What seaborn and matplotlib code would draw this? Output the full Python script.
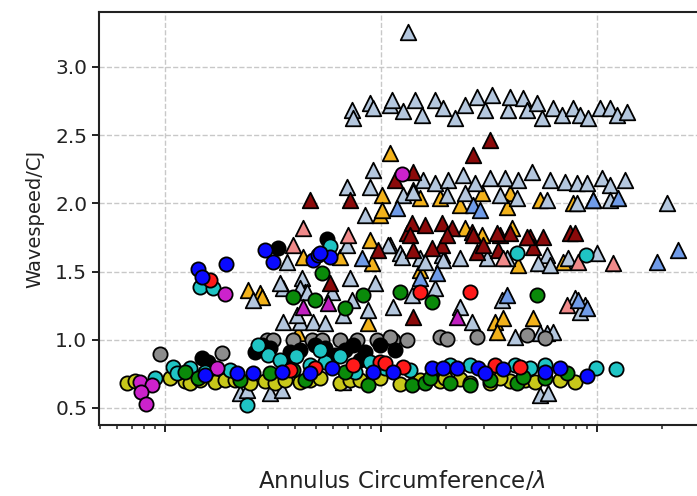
import matplotlib
matplotlib.use("Agg")
import matplotlib.pyplot as plt
import seaborn as sns

# ---- circles ----
yellow_x = [0.667, 0.726, 1.055, 1.238, 1.305, 1.452, 1.704, 1.896, 2.109, 2.475, 2.904, 3.231, 3.594,
            4.217, 4.692, 5.22, 6.46, 7.19, 8.0, 9.89, 12.24, 14.37, 15.16, 18.76, 23.22, 25.83, 31.97,
            39.56, 46.42, 51.64, 67.41, 19.79, 35.56, 79.09]
yellow_y = [0.683, 0.698, 0.72, 0.698, 0.683, 0.705, 0.691, 0.705, 0.705, 0.683, 0.698, 0.683, 0.705,
            0.691, 0.705, 0.72, 0.683, 0.705, 0.705, 0.72, 0.676, 0.691, 0.705, 0.698, 0.713, 0.683, 0.683,
            0.698, 0.705, 0.691, 0.705, 0.72, 0.72, 0.691]

magenta_x = [0.766, 0.871, 0.774, 0.817, 1.896, 1.741, 12.51]
magenta_y = [0.691, 0.669, 0.617, 0.529, 1.336, 0.793, 2.216]

cyan_x = [0.899, 1.089, 1.137, 1.305, 1.532, 2.0, 1.452, 1.668, 2.397, 2.999, 3.408, 4.04, 4.692, 5.506,
          6.46, 7.58, 8.896, 10.43, 20.87, 41.73, 57.45, 5.807, 42.6, 88.9, 98.9, 122.4,
          2.696, 5.22, 13.62, 25.83, 48.96]
cyan_y = [0.72, 0.80, 0.757, 0.793, 0.764, 0.779, 1.387, 1.38, 0.522, 0.889, 0.852, 0.881, 0.815, 0.837,
          0.881, 0.764, 0.837, 0.793, 0.815, 0.815, 0.815, 1.688, 1.636, 1.622, 0.793, 0.786,
          0.962, 0.925, 0.779, 0.815, 0.793]

green_x = [1.422, 1.238, 2.225, 3.063, 3.914, 4.448, 6.814, 8.71, 13.92, 15.99, 20.87, 25.83, 42.6, 45.4,
           72.6, 12.24, 17.2, 52.7, 3.914, 8.26, 5.33, 4.949, 6.814, 16.86, 31.97, 57.45]
green_y = [0.72, 0.764, 0.705, 0.757, 0.779, 0.705, 0.764, 0.669, 0.669, 0.683, 0.683, 0.669, 0.683, 0.727,
           0.757, 1.35, 1.277, 1.328, 1.314, 1.328, 1.49, 1.292, 1.233, 0.72, 0.705, 0.72]

blue_x = [1.422, 1.916, 1.483, 2.904, 3.162, 4.84, 5.11, 5.807, 5.22, 1.532, 2.154, 2.556, 3.48, 4.692,
          5.93, 9.18, 11.36, 17.2, 19.37, 22.49, 28.1, 30.31, 36.7, 57.45, 67.41, 89.9]
blue_y = [1.519, 1.556, 1.46, 1.658, 1.57, 1.585, 1.622, 1.607, 1.636, 0.742, 0.757, 0.757, 0.764, 0.757,
          0.793, 0.764, 0.764, 0.793, 0.793, 0.793, 0.793, 0.757, 0.786, 0.764, 0.793, 0.735]

red_x = [1.616, 3.791, 4.949, 7.42, 9.89, 10.43, 12.64, 33.72, 44.01, 15.16, 25.83]
red_y = [1.438, 0.779, 0.793, 0.815, 0.837, 0.83, 0.80, 0.815, 0.80, 1.35, 1.35]

black_x = [1.483, 1.58, 5.62, 3.33, 3.063, 3.594, 4.217, 4.949, 6.125, 6.814, 8.0, 9.89, 11.61,
           2.61, 2.81, 3.791, 5.506, 7.38, 8.434]
black_y = [0.867, 0.837, 1.739, 1.673, 0.94, 0.852, 0.925, 0.962, 0.889, 0.925, 0.852, 0.962, 0.925,
           0.911, 0.962, 0.911, 0.94, 0.962, 0.911]

gray_x = [0.948, 1.836, 2.967, 3.162, 3.914, 4.79, 5.33, 6.46, 7.74, 9.58, 11.36, 13.19, 11.0, 18.76,
          20.22, 27.8, 47.4, 57.45]
gray_y = [0.896, 0.903, 1.0, 1.0, 1.0, 1.0, 1.0, 1.0, 1.0, 1.0, 1.0, 1.0, 1.02, 1.02,
          1.006, 1.02, 1.035, 1.013]

# ---- triangles ----
steel_x = [7.34, 7.42, 8.896, 9.18, 11.0, 11.24, 12.64, 14.37, 15.49, 17.78, 19.37, 22.01, 24.49, 27.8,
           30.31, 32.6, 38.7, 39.56, 45.4, 47.4, 52.7, 55.6, 62.5, 68.9, 77.4, 83.42, 90.8, 103.3, 114.9,
           123.8, 137.7, 13.34,
           15.6, 17.78, 20.4, 23.97, 27.24, 31.97, 37.51, 43.1, 50.0, 60.59, 71.1, 80.8, 89.9, 105.5,
           114.9, 134.8, 12.64, 20.2, 24.49, 35.56, 42.6, 58.7, 80.8, 95.8, 114.9, 211.0,
           9.18, 6.96, 8.896, 14.06, 8.434, 3.67, 6.96, 11.0, 12.24, 4.31, 7.187, 9.381, 3.52, 4.448, 5.93,
           10.77, 12.51, 15.16, 19.16, 23.22, 30.97, 38.3, 58.7, 73.4, 100.0, 19.37, 53.3, 60.59, 15.99,
           13.92, 11.36, 17.78, 23.22, 26.4, 36.3, 41.73, 54.47, 58.7, 62.5, 79.09, 87.99, 83.42,
           54.47, 59.3, 2.225, 2.397, 3.063, 3.48, 6.67,
           3.408, 4.217, 7.34, 8.71, 3.52, 4.217, 4.84, 5.506, 6.67, 4.08, 4.54, 2.556]
steel_y = [2.685, 2.626, 2.736, 2.70, 2.721, 2.758, 2.677, 2.758, 2.648, 2.758, 2.70, 2.626, 2.721, 2.78,
           2.685, 2.795, 2.685, 2.78, 2.773, 2.685, 2.736, 2.626, 2.70, 2.648, 2.70, 2.648, 2.626, 2.70, 2.70,
           2.648, 2.67, 3.257,
           2.172, 2.15, 2.172, 2.208, 2.15, 2.186, 2.186, 2.172, 2.23, 2.172, 2.157, 2.15, 2.15, 2.186,
           2.135, 2.172, 2.062, 2.062, 2.076, 2.062, 2.04, 2.025, 2.003, 2.025, 2.025, 2.003,
           2.245, 2.12, 2.12, 2.084, 1.915, 1.57, 1.695, 1.695, 1.636, 1.453, 1.453, 1.416, 1.38, 1.35, 1.35,
           1.695, 1.607, 1.60, 1.622, 1.60, 1.60, 1.60, 1.622, 1.60, 1.636, 1.585, 1.563, 1.548, 1.57,
           1.328, 1.24, 1.38, 1.24, 1.13, 1.292, 1.02, 1.05, 1.05, 1.057, 1.306, 1.255, 1.204,
           0.595, 0.61, 0.61, 0.632, 0.61, 0.632, 0.691,
           1.416, 1.38, 1.292, 1.218, 1.13, 1.13, 1.13, 1.123, 1.182, 1.182, 1.35, 1.292]

orange_x = [2.42, 2.754, 11.0, 10.1, 9.89, 4.35, 6.46, 8.896, 9.08, 14.06, 15.16, 18.76, 23.22, 29.4,
            39.56, 38.3, 54.47, 77.4, 10.1, 24.49, 29.4, 40.4, 43.1, 15.16, 33.72, 36.7, 50.6, 34.4,
            69.6, 8.71, 4.13, 2.81]
orange_y = [1.365, 1.343, 2.37, 2.062, 1.915, 1.607, 1.607, 1.732, 1.563, 2.098, 2.04, 2.04, 1.988, 2.076,
            2.076, 1.974, 2.025, 2.003, 1.952, 1.82, 1.768, 1.82, 1.548, 1.512, 1.13, 1.16, 1.16, 1.057,
            1.57, 1.123, 1.05, 1.314]

darkred_x = [4.692, 7.187, 11.61, 14.06, 9.69, 13.19, 13.92, 31.97, 26.7, 15.99, 19.16, 21.3, 26.4, 35.56,
             39.56, 48.96, 56.2, 19.16, 27.8, 34.8, 50.6, 13.62, 20.2, 26.7, 34.4, 47.4, 74.99, 79.09,
             14.06, 29.7, 17.2, 14.06, 5.807]
darkred_y = [2.025, 2.025, 2.172, 2.23, 1.658, 1.783, 1.856, 2.465, 2.355, 1.842, 1.856, 1.82, 1.79, 1.768,
             1.783, 1.754, 1.754, 1.695, 1.644, 1.658, 1.68, 1.768, 1.768, 1.768, 1.783, 1.754, 1.783, 1.783,
             1.658, 1.695, 1.673, 1.167, 1.416]

coral_x = [4.35, 3.91, 7.03, 36.7, 81.7, 118.6, 72.6]
coral_y = [1.82, 1.695, 1.768, 1.60, 1.57, 1.563, 1.255]

cornflower_x = [11.86, 8.17, 26.7, 28.73, 95.8, 125.1, 81.7, 89.9, 38.3, 15.16, 18.2, 189.6, 237.0]
cornflower_y = [1.966, 1.60, 1.988, 1.952, 2.025, 2.04, 1.292, 1.233, 1.328, 1.453, 1.49, 1.57, 1.658]

violet_x = [4.35, 5.68, 22.5]
violet_y = [1.24, 1.27, 1.167]

sns.set_style("ticks")
plt.rcParams["font.family"] = ["DejaVu Sans"]

fig = plt.figure(figsize=(6.97, 4.96), dpi=100)
ax = fig.add_axes([99 / 697, 71 / 496, 606 / 697, 413 / 496])

tri_size = 125
circ_size = 105
edge = dict(edgecolor="black", linewidth=1.3)

series = [
    (orange_x, orange_y, "#f2b21b", "^", tri_size),
    (steel_x, steel_y, "#b4c7de", "^", tri_size),
    (darkred_x, darkred_y, "#8b0a0a", "^", tri_size),
    (coral_x, coral_y, "#f08a8a", "^", tri_size),
    (cornflower_x, cornflower_y, "#6f9be8", "^", tri_size),
    (violet_x, violet_y, "#c020c0", "^", tri_size),
    (gray_x, gray_y, "#8c8c8c", "o", circ_size),
    (black_x, black_y, "#000000", "o", circ_size),
    (yellow_x, yellow_y, "#c8c81a", "o", circ_size),
    (cyan_x, cyan_y, "#1fc4c4", "o", circ_size),
    (green_x, green_y, "#0a8a0a", "o", circ_size),
    (magenta_x, magenta_y, "#cc22cc", "o", circ_size),
    (red_x, red_y, "#ff1a1a", "o", circ_size),
    (blue_x, blue_y, "#0a0aff", "o", circ_size),
]
for xs, ys, col, mk, sz in series:
    sns.scatterplot(x=xs, y=ys, color=col, marker=mk, s=sz, ax=ax, legend=False, **edge)

ax.set_xscale("log")
ax.set_xlim(0.4947, 316.2)
ax.set_ylim(0.375, 3.403)
ax.set_yticks([0.5, 1.0, 1.5, 2.0, 2.5, 3.0])

ax.grid(True, which="major", linestyle="--", color="#c8c8c8", linewidth=1.0)
ax.set_axisbelow(True)

for side in ["left", "bottom", "top", "right"]:
    ax.spines[side].set_visible(True)
    ax.spines[side].set_linewidth(1.5)
    ax.spines[side].set_color("#222222")

ax.tick_params(axis="both", which="major", direction="out", length=5, width=1.4, color="#222222",
               labelsize=14.5, labelcolor="#222222")
ax.tick_params(axis="x", which="minor", direction="out", length=3, width=1.1, color="#222222")
ax.tick_params(axis="x", which="both", labelbottom=False)

ax.set_ylabel("Wavespeed/CJ", fontsize=14, color="#222222", labelpad=8)
ax.set_xlabel("Annulus Circumference/$\\lambda$", fontsize=16.5, color="#222222", labelpad=27)

fig.savefig("out.png", dpi=100)
